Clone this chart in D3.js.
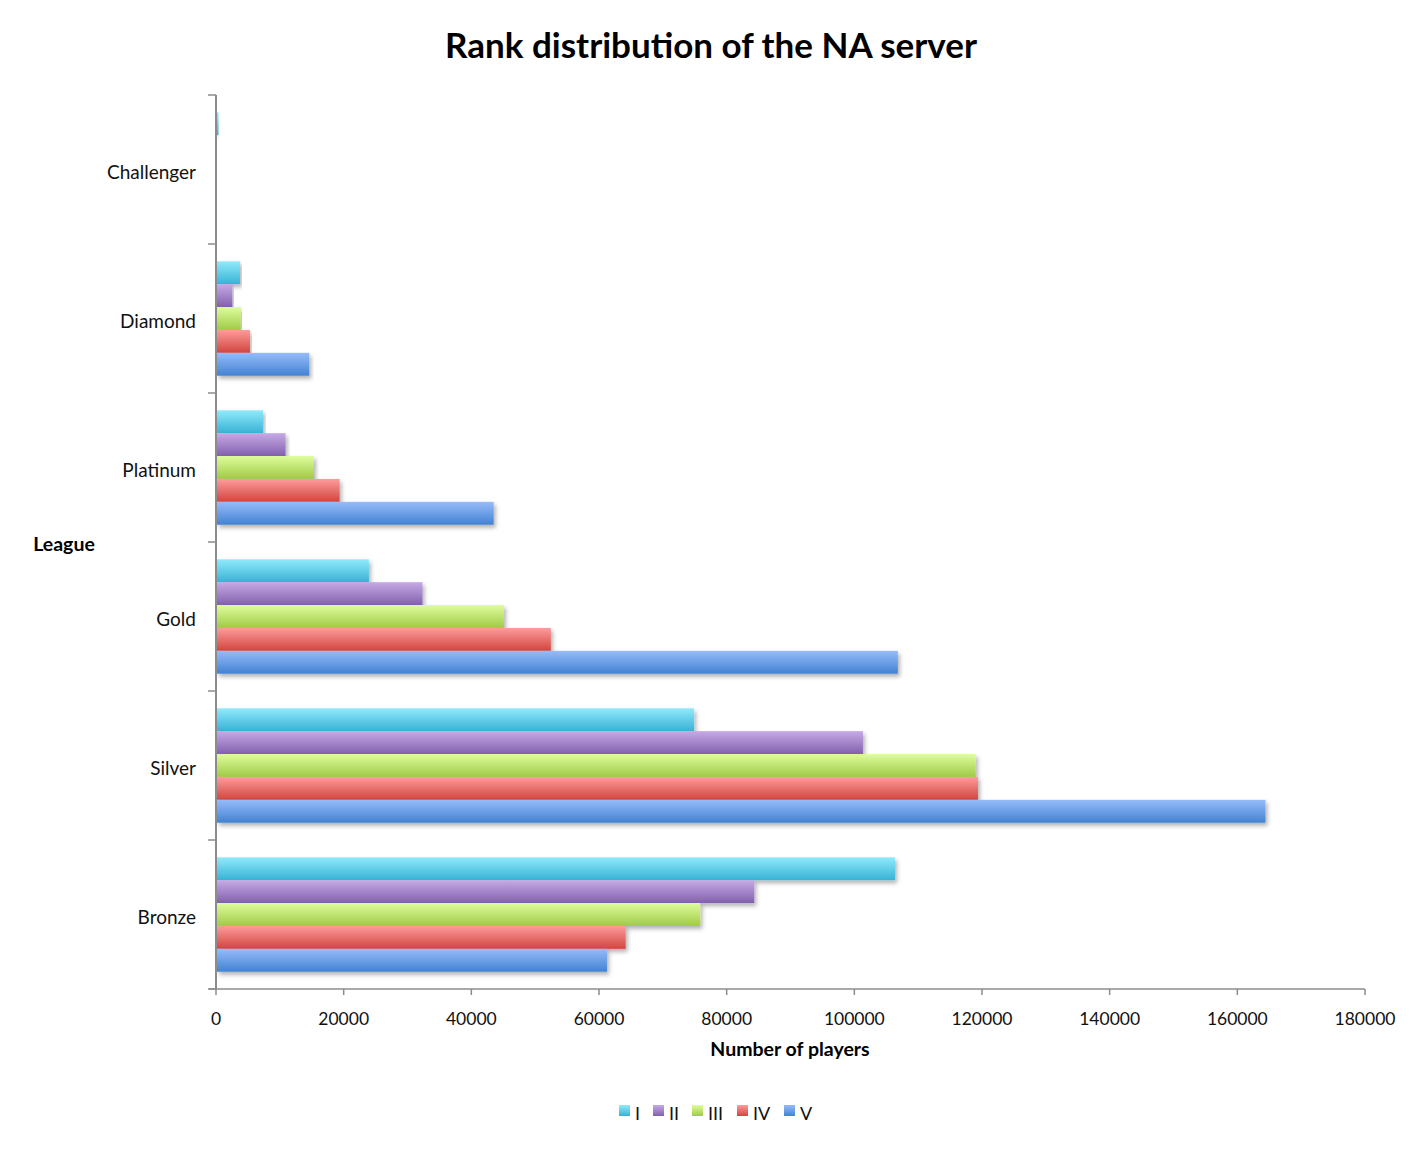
<!DOCTYPE html>
<html>
<head>
<meta charset="utf-8">
<script src="https://cdn.jsdelivr.net/npm/d3@7/dist/d3.min.js"></script>
<style>
  html, body { margin: 0; padding: 0; background: #fff; }
  svg { display: block; font-family: Lato, "Open Sans", sans-serif; }
</style>
</head>
<body>
<svg id="chart" width="1423" height="1149"></svg>
<script>
const leagues = ["Challenger", "Diamond", "Platinum", "Gold", "Silver", "Bronze"];
const divisions = ["I", "II", "III", "IV", "V"];
const divI   = [200,   3760,  7360, 23950,  74900, 106370];
const divII  = [0,     2560, 10900, 32350, 101350,  84330];
const divIII = [0,     3870, 15350, 45100, 119010,  75870];
const divIV  = [0,     5330, 19370, 52460, 119370,  64180];
const divV   = [0,    14620, 43500, 106820, 164410, 61250];
const xTicks = [0, 20000, 40000, 60000, 80000, 100000, 120000, 140000, 160000, 180000];
const seriesValues = [divI, divII, divIII, divIV, divV];
const colorsTop = ["#90eafb", "#c6aae6", "#defd9c", "#fd9c9c", "#96bcfb"];
const colorsBottom = ["#38b2d6", "#8260ae", "#a0ca46", "#d2453f", "#4282d2"];

(function () {
const svg = d3.select("#chart");
const defs = svg.append("defs");
divisions.forEach((d, i) => {
  const g = defs.append("linearGradient").attr("id", "grad" + i)
    .attr("x1", 0).attr("y1", 0).attr("x2", 0).attr("y2", 1);
  g.append("stop").attr("offset", "0%").attr("stop-color", colorsTop[i]);
  g.append("stop").attr("offset", "100%").attr("stop-color", colorsBottom[i]);
});
const f = defs.append("filter").attr("id", "shadow")
  .attr("x", "-5%").attr("y", "-20%").attr("width", "110%").attr("height", "160%");
f.append("feDropShadow").attr("dx", 2).attr("dy", 3).attr("stdDeviation", 2)
  .attr("flood-color", "#000").attr("flood-opacity", 0.3);

const pLeft = 216, pRight = 1365, pTop = 95, pBottom = 989;
const x = d3.scaleLinear().domain([0, 180000]).range([pLeft, pRight]);
const y = d3.scaleBand().domain(leagues).range([pTop, pBottom])
  .paddingInner(0.232).paddingOuter(0.116);
const yInner = d3.scaleBand().domain(divisions).range([0, y.bandwidth()]);

// Bars
const groups = svg.append("g").selectAll("g").data(leagues).join("g")
  .attr("transform", d => `translate(0,${y(d)})`);
groups.each(function(lg, li) {
  const data = divisions.map((dv, di) => ({ dv, di, v: seriesValues[di][li] }));
  d3.select(this).selectAll("rect").data(data.filter(d => d.v > 0)).join("rect")
    .attr("x", x(0) + 1)
    .attr("y", d => yInner(d.dv))
    .attr("height", yInner.bandwidth())
    .attr("width", d => Math.max(1.5, x(d.v) - x(0) - 1))
    .attr("fill", d => `url(#grad${d.di})`)
    .attr("filter", "url(#shadow)");
});

// Axes
const axisColor = "#8c8c8c";
const yAxis = svg.append("g");
yAxis.append("line").attr("x1", pLeft).attr("x2", pLeft).attr("y1", pTop).attr("y2", pBottom)
  .attr("stroke", axisColor).attr("stroke-width", 2);
const bounds = leagues.map(l => y(l) - y.step() * y.paddingInner() / 2);
bounds.push(pBottom);
yAxis.selectAll("line.tk").data(bounds).join("line").attr("class", "tk")
  .attr("x1", pLeft - 8).attr("x2", pLeft).attr("y1", d => d).attr("y2", d => d)
  .attr("stroke", axisColor).attr("stroke-width", 1.5);
yAxis.selectAll("text").data(leagues).join("text")
  .attr("x", 196).attr("y", d => y(d) + y.bandwidth() / 2 + 3)
  .attr("dy", "0.35em").attr("text-anchor", "end")
  .attr("font-size", 19).attr("fill", "#111").text(d => d);

const xAxis = svg.append("g");
xAxis.append("line").attr("x1", pLeft - 7).attr("x2", pRight).attr("y1", pBottom).attr("y2", pBottom)
  .attr("stroke", axisColor).attr("stroke-width", 1.5);
xAxis.selectAll("line.tk").data(xTicks).join("line").attr("class", "tk")
  .attr("x1", d => x(d)).attr("x2", d => x(d)).attr("y1", pBottom).attr("y2", pBottom + 6)
  .attr("stroke", axisColor).attr("stroke-width", 1.5);
xAxis.selectAll("text").data(xTicks).join("text")
  .attr("x", d => x(d)).attr("y", 1025).attr("text-anchor", "middle")
  .attr("font-size", 17.5).attr("fill", "#111").text(d => d);

// Titles
svg.append("text").attr("x", 711).attr("y", 58).attr("text-anchor", "middle")
  .attr("font-size", 35).attr("font-weight", "bold").attr("fill", "#000")
  .text("Rank distribution of the NA server");
svg.append("text").attr("x", 64).attr("y", 551).attr("text-anchor", "middle")
  .attr("font-size", 19.5).attr("font-weight", "bold").attr("fill", "#000").text("League");
svg.append("text").attr("x", 790).attr("y", 1056).attr("text-anchor", "middle")
  .attr("font-size", 19.5).attr("font-weight", "bold").attr("fill", "#000").text("Number of players");

// Legend
const legendX = [619, 653, 692, 737, 784];
const legend = svg.append("g").selectAll("g").data(divisions).join("g")
  .attr("transform", (d, i) => `translate(${legendX[i]},1105)`);
legend.append("rect").attr("width", 11).attr("height", 11)
  .attr("fill", (d, i) => `url(#grad${i})`);
legend.append("text").attr("x", 16).attr("y", 15).attr("font-size", 18)
  .attr("fill", "#111").text(d => d);
})();
</script>
</body>
</html>
